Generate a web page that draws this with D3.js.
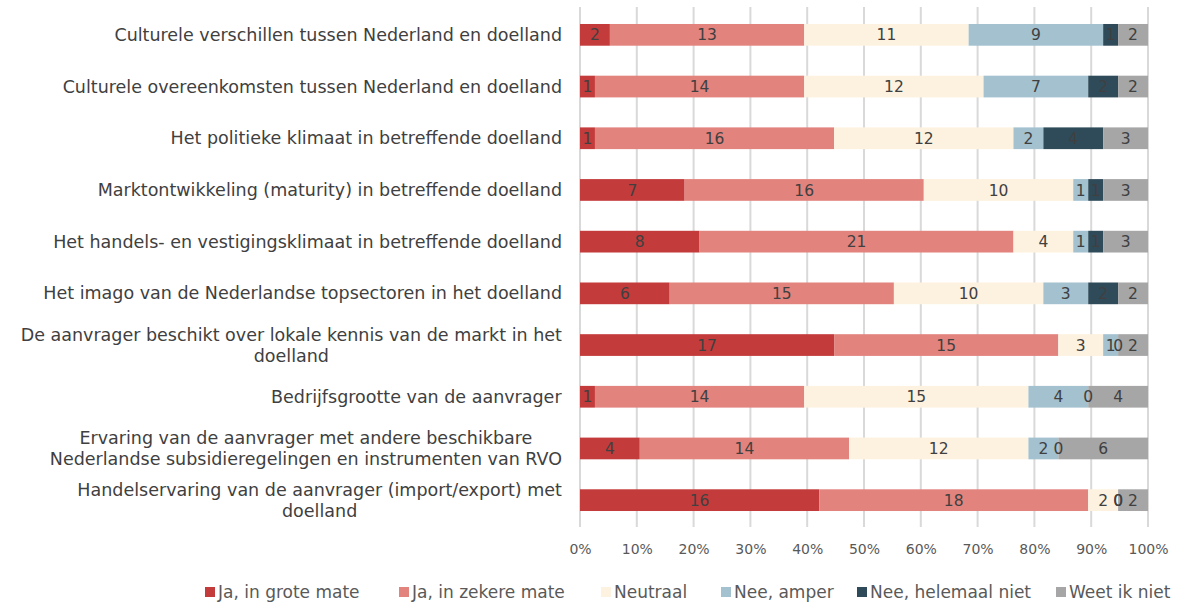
<!DOCTYPE html>
<html>
<head>
<meta charset="utf-8">
<script src="https://cdn.jsdelivr.net/npm/d3@7"></script>
<style>
  body { margin: 0; background: #fff; }
  svg text { font-family: 'DejaVu Sans', sans-serif; }
</style>
</head>
<body>
<div id="chart"></div>
<script>
const categories = [
  'Culturele verschillen tussen Nederland en doelland',
  'Culturele overeenkomsten tussen Nederland en doelland',
  'Het politieke klimaat in betreffende doelland',
  'Marktontwikkeling (maturity) in betreffende doelland',
  'Het handels- en vestigingsklimaat in betreffende doelland',
  'Het imago van de Nederlandse topsectoren in het doelland',
  'De aanvrager beschikt over lokale kennis van de markt in het|doelland',
  'Bedrijfsgrootte van de aanvrager',
  'Ervaring van de aanvrager met andere beschikbare|Nederlandse subsidieregelingen en instrumenten van RVO',
  'Handelservaring van de aanvrager (import/export) met|doelland'
]
const seriesNames = ['Ja, in grote mate', 'Ja, in zekere mate', 'Neutraal', 'Nee, amper', 'Nee, helemaal niet', 'Weet ik niet']
const grote = [2, 1, 1, 7, 8, 6, 17, 1, 4, 16]
const zekere = [13, 14, 16, 16, 21, 15, 15, 14, 14, 18]
const neutraal = [11, 12, 12, 10, 4, 10, 3, 15, 12, 2]
const amper = [9, 7, 2, 1, 1, 3, 1, 4, 2, 0]
const helemaal = [1, 2, 4, 1, 1, 2, 0, 0, 0, 0]
const weetniet = [2, 2, 3, 3, 3, 2, 2, 4, 6, 2]
const ticks = [0, 0.1, 0.2, 0.3, 0.4, 0.5, 0.6, 0.7, 0.8, 0.9, 1]
const colors = ['#c43b3b', '#e3837e', '#fdf2e0', '#a3c1cf', '#2f4b5a', '#a6a6a6']

const series = [grote, zekere, neutraal, amper, helemaal, weetniet]
const rows = categories.map((c, i) => {
  const row = { cat: c }
  seriesNames.forEach((s, j) => { row[s] = series[j][i] })
  return row
})

const width = 1194
const height = 603
const margin = { top: 9, right: 46, bottom: 77, left: 580 }

const svg = d3.select('#chart').append('svg')
  .attr('width', width)
  .attr('height', height)

const xScale = d3.scaleLinear().domain([0, 1]).range([margin.left, width - margin.right])
const yScale = d3.scaleBand().domain(categories).range([margin.top, height - margin.bottom]).paddingInner(0.58).paddingOuter(0.29)

// gridlines
svg.append('g')
  .selectAll('line')
  .data(ticks)
  .enter().append('line')
  .attr('x1', d => xScale(d)).attr('x2', d => xScale(d))
  .attr('y1', margin.top - 2).attr('y2', height - margin.bottom + 1)
  .attr('stroke', '#d9d9d9')
  .attr('stroke-width', 2)

// x axis labels
svg.append('g')
  .attr('transform', 'translate(0,' + (height - margin.bottom + 15) + ')')
  .call(d3.axisBottom(xScale).tickValues(ticks).tickFormat(d3.format('.0%')).tickSize(0))
  .call(g => g.select('.domain').remove())
  .selectAll('text')
  .attr('fill', '#595959')
  .style('font-family', 'DejaVu Sans, sans-serif')
  .style('font-size', '14px')

const stack = d3.stack().keys(seriesNames).offset(d3.stackOffsetExpand)
const stacked = stack(rows)

const layers = svg.append('g')
  .selectAll('g')
  .data(stacked)
  .enter().append('g')
  .attr('fill', (d, i) => colors[i])

layers.selectAll('rect')
  .data(d => d)
  .enter().append('rect')
  .attr('x', d => xScale(d[0]))
  .attr('y', d => yScale(d.data.cat))
  .attr('width', d => xScale(d[1]) - xScale(d[0]))
  .attr('height', yScale.bandwidth())

// data labels
const labels = svg.append('g')
stacked.forEach(layer => {
  labels.selectAll(null)
    .data(layer)
    .enter().append('text')
    .attr('x', d => (xScale(d[0]) + xScale(d[1])) / 2)
    .attr('y', d => yScale(d.data.cat) + yScale.bandwidth() / 2)
    .attr('dy', '0.36em')
    .attr('text-anchor', 'middle')
    .attr('fill', '#404040')
    .style('font-size', '15.5px')
    .text(d => d.data[layer.key])
})

// category labels, wrapped lines centred on each other, block right-aligned
const catG = svg.append('g')
categories.forEach(c => {
  const lines = c.split('|')
  const cy = yScale(c) + yScale.bandwidth() / 2
  const t = catG.append('text')
    .attr('fill', '#404040')
    .style('font-size', '17.5px')
    .attr('text-anchor', 'middle')
  lines.forEach((l, k) => {
    t.append('tspan')
      .attr('x', 0)
      .attr('y', cy + (k - (lines.length - 1) / 2) * 21)
      .attr('dy', '0.35em')
      .text(l)
  })
  const w = t.node().getBBox().width
  t.selectAll('tspan').attr('x', 562 - w / 2)
})

// legend
const legendX = [205, 399, 601, 721, 857, 1056]
const legend = svg.append('g')
  .selectAll('g')
  .data(seriesNames)
  .enter().append('g')
  .attr('transform', (d, i) => 'translate(' + legendX[i] + ',' + 592 + ')')
legend.append('rect')
  .attr('x', 0).attr('y', -5)
  .attr('width', 10).attr('height', 10)
  .attr('fill', (d, i) => colors[i])
legend.append('text')
  .attr('x', 13)
  .attr('dy', '0.36em')
  .attr('fill', '#595959')
  .style('font-size', '17px')
  .text(d => d)
</script>
</body>
</html>
